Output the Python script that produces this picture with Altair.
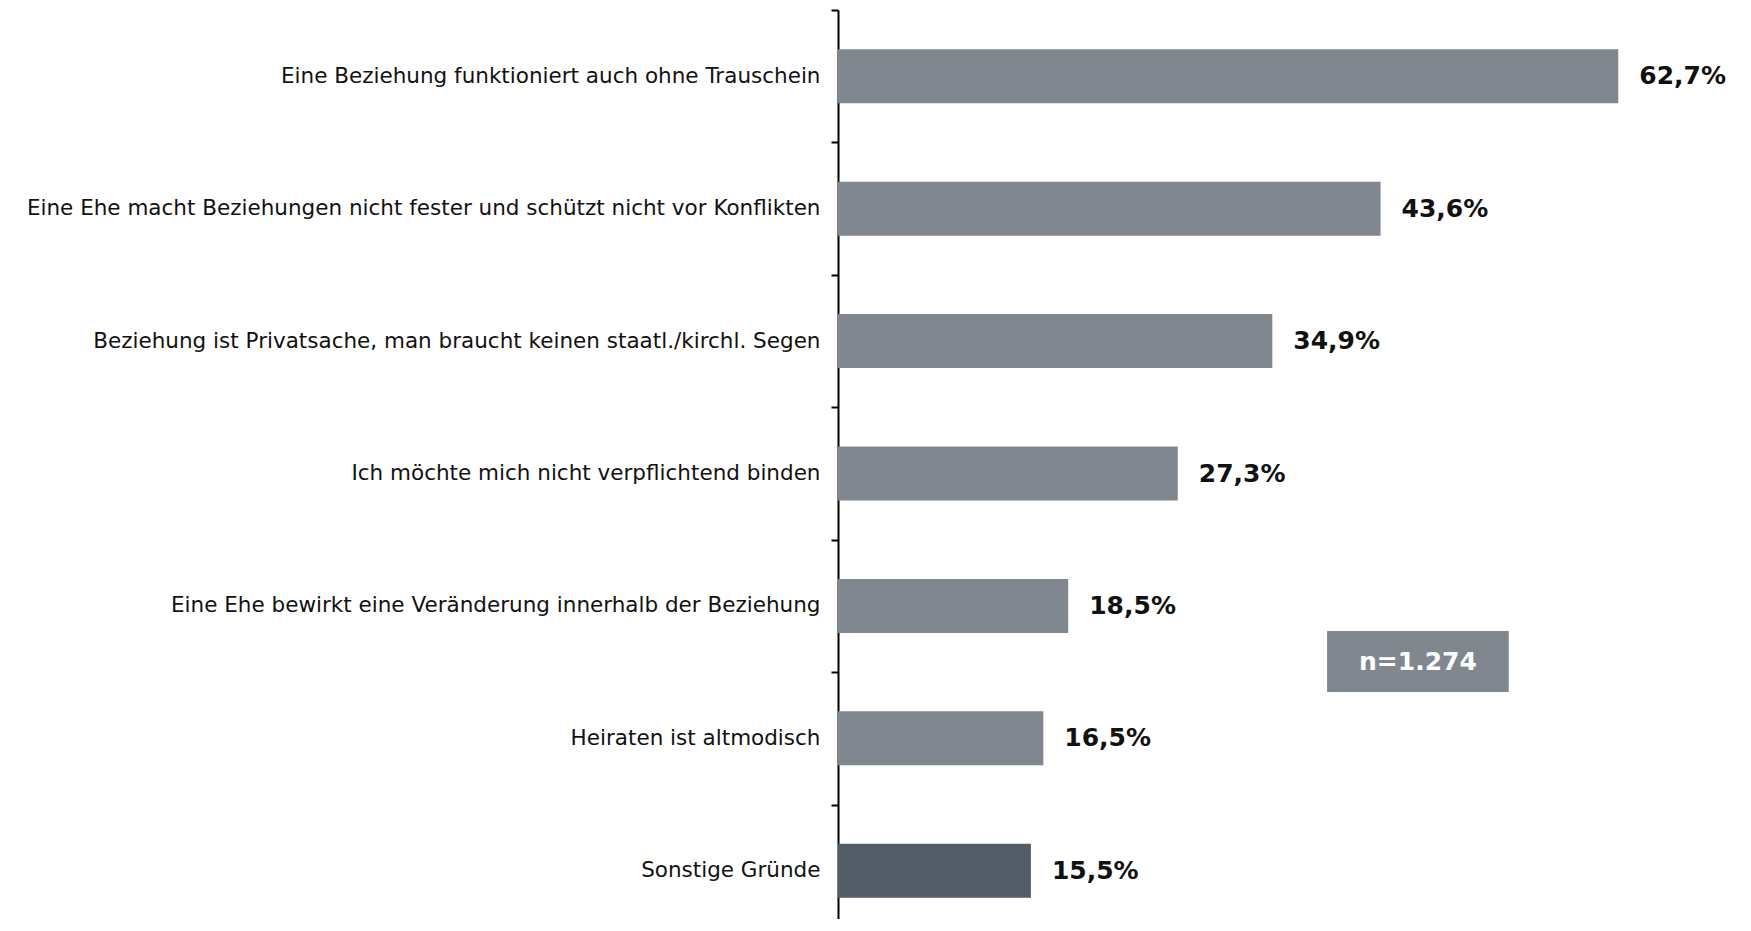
import altair as alt
import pandas as pd

categories = [
    "Eine Beziehung funktioniert auch ohne Trauschein",
    "Eine Ehe macht Beziehungen nicht fester und schützt nicht vor Konflikten",
    "Beziehung ist Privatsache, man braucht keinen staatl./kirchl. Segen",
    "Ich möchte mich nicht verpflichtend binden",
    "Eine Ehe bewirkt eine Veränderung innerhalb der Beziehung",
    "Heiraten ist altmodisch",
    "Sonstige Gründe",
]
values = [62.7, 43.6, 34.9, 27.3, 18.5, 16.5, 15.5]
groups = ["main", "main", "main", "main", "main", "main", "other"]
value_labels = ["62,7%", "43,6%", "34,9%", "27,3%", "18,5%", "16,5%", "15,5%"]

note_text = ["n=1.274"]
note_x = [39.3]
note_x2 = [53.9]

df = pd.DataFrame({"cat": categories, "val": values, "grp": groups, "lbl": value_labels})
note = pd.DataFrame({"t": note_text, "x": note_x, "x2": note_x2})
note["xm"] = (note["x"] + note["x2"]) / 2

FONT = "DejaVu Sans"
XDOM = [0, 72]

y_enc = alt.Y(
    "cat:N",
    sort=categories,
    title=None,
    scale=alt.Scale(range=[0, 927], paddingInner=0, paddingOuter=0),
    axis=alt.Axis(
        tickBand="extent",
        domainColor="#000000",
        domainWidth=2,
        tickColor="#000000",
        tickWidth=2,
        tickSize=7,
        labelPadding=11,
        labelFont=FONT,
        labelFontSize=21.5,
        labelColor="#111111",
        labelLimit=1200,
        grid=False,
    ),
)
x_enc = alt.X("val:Q", scale=alt.Scale(domain=XDOM, nice=False), axis=None)

bars = alt.Chart(df).mark_bar(size=54).encode(
    x=x_enc,
    y=y_enc,
    color=alt.Color(
        "grp:N",
        scale=alt.Scale(domain=["main", "other"], range=["#81878f", "#525d68"]),
        legend=None,
    ),
)

texts = alt.Chart(df).mark_text(
    align="left", baseline="middle", dx=21, font=FONT, fontSize=25,
    fontWeight="bold", color="#111111",
).encode(x=x_enc, y=alt.Y("cat:N", sort=categories), text="lbl:N")

box = alt.Chart(note).mark_rect(color="#81878f").encode(
    x=alt.X("x:Q", scale=alt.Scale(domain=XDOM, nice=False), axis=None),
    x2="x2:Q",
    y=alt.value(621),
    y2=alt.value(682),
)
box_text = alt.Chart(note).mark_text(
    align="center", baseline="middle", font=FONT, fontSize=25,
    fontWeight="bold", color="#ffffff",
).encode(
    x=alt.X("xm:Q", scale=alt.Scale(domain=XDOM, nice=False), axis=None),
    y=alt.value(652),
    text="t:N",
)

chart = alt.layer(bars, texts, box, box_text).properties(
    width=896,
    height=909,
    autosize=alt.AutoSizeParams(type="none"),
    padding={"left": 830, "top": 2, "right": 0, "bottom": 0},
).configure_view(stroke=None)

chart.save("out.html", embed_options={"renderer": "svg", "actions": False})
